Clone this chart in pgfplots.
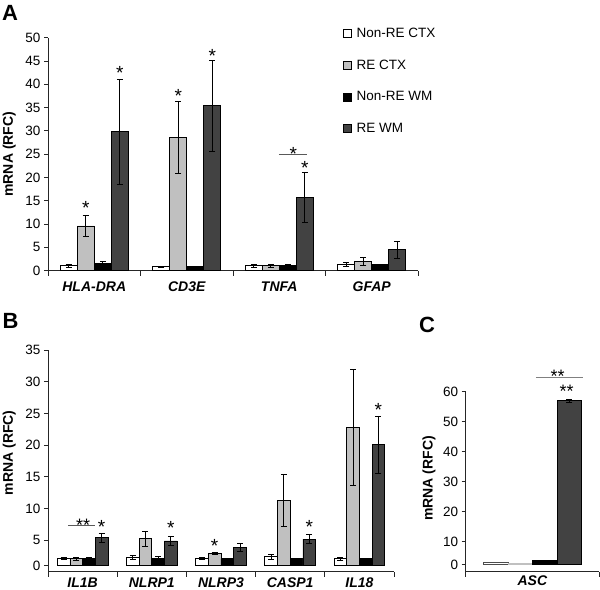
\documentclass[border=0pt]{standalone}
\usepackage{fontspec}
\setmainfont{Liberation Sans}
\usepackage{pgfplots}
\usepackage{pgfplotstable}
\pgfplotsset{compat=1.18}

\definecolor{lgray}{HTML}{C0C0C0}
\definecolor{dgray}{HTML}{424242}

\pgfplotstableread{
x w we g ge k ke d de
0 1.1 0.3 9.6 2.2 1.65 0.4 29.8 11.2
1 0.85 0.1 28.6 7.7 0.9 0.05 35.4 9.8
2 1.05 0.3 1.05 0.3 1.2 0.2 15.7 5.3
3 1.3 0.4 2.0 0.8 1.3 0.0 4.5 1.85
}\dataA

\pgfplotstableread{
x w we g ge k ke d de
0 2.15 0.15 2.05 0.25 2.1 0.1 5.35 0.75
1 2.2 0.3 5.2 1.2 2.15 0.3 4.85 0.75
2 2.1 0.1 2.9 0.2 2.05 0.1 3.85 0.65
3 2.37 0.35 11.2 4.1 2.05 0.05 5.15 0.7
4 2.05 0.25 22.8 9.2 2.05 0.1 20.1 4.5
}\dataB

\pgfplotstableread{
x w we g ge k ke d de
0 3.1 0.0 2.7 0.0 3.9 0.0 57.0 0.4
}\dataC

\pgfplotsset{
  myaxis/.style={
    scale only axis,
    axis x line*=bottom, axis y line*=left,
    axis line style={-, line width=0.8bp, black!85},
    tick align=outside,
    ybar=0pt,
    major tick length=4bp,
    minor tick length=5bp,
    tick style={line width=0.8bp, black!85},
    /pgf/number format/assume math mode=true,
    yticklabel style={font=\fontsize{13.5bp}{16bp}\selectfont},
    xticklabel style={font=\fontsize{14bp}{16bp}\selectfont\bfseries\itshape, inner sep=0pt},
    ylabel style={font=\fontsize{14bp}{16bp}\selectfont\bfseries, anchor=center},
    major x tick style={draw=none},
    clip=false,
  },
  eb/.style={error bars/.cd, y dir=both, y explicit,
    error bar style={line width=0.8bp, black},
    error mark options={rotate=90, mark size=3bp, line width=0.8bp, black}},
  sq/.style={legend image code/.code={\draw[##1, line width=0.6bp] (0bp,-4bp) rectangle (8bp,4bp); \path (10.5bp,0bp);}},
}
\tikzset{star/.style={font=\fontsize{19bp}{19bp}\selectfont, inner sep=0pt, anchor=center, yshift=-4bp},
  sstar/.style={font=\fontsize{18bp}{18bp}\selectfont, inner sep=0pt, anchor=center, yshift=-3.8bp}}

\begin{document}
\begin{tikzpicture}
\useasboundingbox (0,0) rectangle (600bp,590bp);

% Panel letters
\node[font=\fontsize{22bp}{22bp}\selectfont\bfseries, anchor=north west, inner sep=0pt] at (2bp,585bp) {A};
\node[font=\fontsize{22bp}{22bp}\selectfont\bfseries, anchor=north west, inner sep=0pt] at (2.5bp,277bp) {B};
\node[font=\fontsize{22bp}{22bp}\selectfont\bfseries, anchor=north west, inner sep=0pt] at (419bp,273bp) {C};

% ---------------- Panel A
\begin{axis}[myaxis,
  at={(48bp,319.3bp)}, anchor=south west,
  width=370bp, height=233bp,
  xmin=-0.5, xmax=3.5, ymin=0, ymax=50,
  ytick={0,5,...,50},
  xtick={0,1,2,3}, xticklabels={HLA-DRA,CD3E,TNFA,GFAP},
  xticklabel style={yshift=-7bp},
  minor xtick={-0.5,0.5,1.5,2.5,3.5},
  bar width=17bp,
  ylabel={mRNA (RFC)},
  ylabel style={at={(axis description cs:-0.105,0.5)}},
  legend style={at={(axis description cs:0.798,1.052)}, anchor=north west,
    draw=none, fill=none, font=\fontsize{13.5bp}{16bp}\selectfont,
    row sep=17bp, inner sep=0pt},
  legend cell align=left,
]
\addplot[fill=white, draw=black, line width=0.7bp, sq, eb] table[x=x,y=w,y error=we]{\dataA};
\addplot[fill=lgray, draw=black, line width=0.7bp, sq, eb] table[x=x,y=g,y error=ge]{\dataA};
\addplot[fill=black, draw=black, line width=0.7bp, sq, eb] table[x=x,y=k,y error=ke]{\dataA};
\addplot[fill=dgray, draw=black, line width=0.7bp, sq, eb] table[x=x,y=d,y error=de]{\dataA};
\legend{Non-RE CTX, RE CTX, Non-RE WM, RE WM}
\node[star] at (axis cs:-0.092,14.3) {*};
\node[star] at (axis cs:0.276,43.2) {*};
\node[star] at (axis cs:0.908,38.3) {*};
\node[star] at (axis cs:1.276,46.9) {*};
\node[star] at (axis cs:2.276,22.9) {*};
\node[star] at (axis cs:2.152,26.0) {*};
\draw[gray!70!black, line width=0.8bp] (axis cs:1.997,25.0) -- (axis cs:2.30,25.0);
\end{axis}

% ---------------- Panel B
\begin{axis}[myaxis,
  at={(48bp,18.3bp)}, anchor=south west,
  width=346bp, height=221.6bp,
  xmin=-0.5, xmax=4.5, ymin=-0.95, ymax=34.05,
  y filter/.expression={y-0.95},
  ytick={0,4.05,9.05,14.05,19.05,24.05,29.05,34.05},
  yticklabels={0,5,10,15,20,25,30,35},
  xtick={0,1,2,3,4}, xticklabels={IL1B,NLRP1,NLRP3,CASP1,IL18},
  xticklabel style={yshift=-2bp},
  minor xtick={-0.5,0.5,1.5,2.5,3.5,4.5},
  bar width=12.7bp,
  ylabel={mRNA (RFC)},
  ylabel style={at={(axis description cs:-0.112,0.537)}},
]
\addplot[fill=white, draw=black, line width=0.7bp, eb] table[x=x,y=w,y error=we]{\dataB};
\addplot[fill=lgray, draw=black, line width=0.7bp, eb] table[x=x,y=g,y error=ge]{\dataB};
\addplot[fill=black, draw=black, line width=0.7bp, eb] table[x=x,y=k,y error=ke]{\dataB};
\addplot[fill=dgray, draw=black, line width=0.7bp, eb] table[x=x,y=d,y error=de]{\dataB};
\draw[gray!70!black, line width=0.8bp] (axis cs:-0.207,6.32) -- (axis cs:0.177,6.32);
\node[sstar] at (axis cs:0.009,7.05) {**};
\node[star] at (axis cs:0.274,6.7) {*};
\node[star] at (axis cs:1.275,6.55) {*};
\node[star] at (axis cs:1.908,3.79) {*};
\node[star] at (axis cs:3.275,6.7) {*};
\node[star] at (axis cs:4.275,25.15) {*};
\end{axis}

% ---------------- Panel C
\begin{axis}[myaxis,
  at={(465.7bp,18.3bp)}, anchor=south west,
  width=133.3bp, height=180bp,
  xmin=-0.5, xmax=0.5, ymin=-2.33, ymax=57.67,
  y filter/.expression={y-2.33},
  ytick={0,7.67,17.67,27.67,37.67,47.67,57.67},
  yticklabels={0,10,20,30,40,50,60},
  xtick={0}, xticklabels={ASC},
  xticklabel style={yshift=0bp},
  minor xtick={-0.5,0.5},
  bar width=24.5bp,
  ylabel={mRNA (RFC)},
  ylabel style={at={(axis description cs:-0.275,0.519)}},
]
\addplot[fill=white, draw=black!70, line width=0.7bp] table[x=x,y=w]{\dataC};
\addplot[fill=lgray, draw=lgray, line width=0.7bp] table[x=x,y=g]{\dataC};
\addplot[fill=black, draw=black, line width=0.7bp] table[x=x,y=k]{\dataC};
\addplot[fill=dgray, draw=black, line width=0.7bp, eb] table[x=x,y=d,y error=de]{\dataC};
\draw[gray, line width=1bp] (axis cs:0.027,62.37) -- (axis cs:0.378,62.37);
\node[sstar] at (axis cs:0.189,64.2) {**};
\node[sstar] at (axis cs:0.258,59.2) {**};
\end{axis}
\end{tikzpicture}
\end{document}
